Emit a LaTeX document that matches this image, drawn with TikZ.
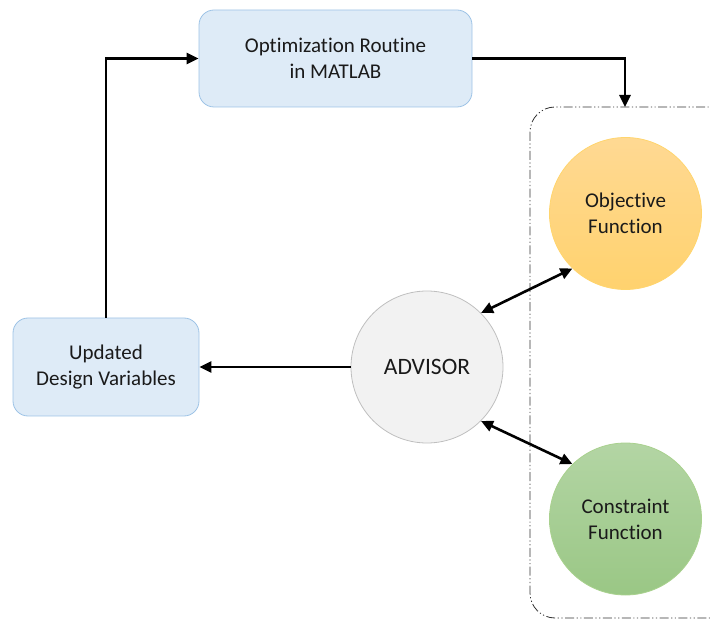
\documentclass[tikz,border=0pt]{standalone}
\usepackage{fontspec}
\setmainfont{Carlito}[Ligatures={NoCommon}]
\usetikzlibrary{arrows.meta}
\definecolor{boxfill}{HTML}{DEEBF7}
\definecolor{boxline}{HTML}{9DC3E6}
\definecolor{advfill}{HTML}{F2F2F2}
\definecolor{advline}{HTML}{BFBFBF}
\definecolor{objtop}{HTML}{FFD993}
\definecolor{objbot}{HTML}{FFD26E}
\definecolor{objline}{HTML}{FFD56E}
\definecolor{contop}{HTML}{B3D5A4}
\definecolor{conbot}{HTML}{9AC785}
\definecolor{conline}{HTML}{A9D18E}
\definecolor{txt}{HTML}{1A1A1A}
\tikzset{
  bluebox/.style={draw=boxline, line width=0.8pt, fill=boxfill, rounded corners=15pt,
    align=center, text=txt, font=\fontsize{21}{26}\selectfont, inner sep=0pt},
  roundnode/.style={circle, minimum size=152pt, inner sep=0pt, align=center, text=txt,
    font=\fontsize{21}{26}\selectfont, line width=0.8pt},
  conn/.style={line width=2.6pt, -{Triangle[length=12pt,width=11pt]}},
  dconn/.style={line width=2.6pt, {Triangle[length=12pt,width=11pt]}-{Triangle[length=12pt,width=11pt]}},
}
\begin{document}
\begin{tikzpicture}[x=1pt,y=-1pt]
\useasboundingbox (0,0) rectangle (710,620);
\clip (0,0) rectangle (710,620);
% dashed group
\draw[line width=0.8pt, draw=black!80, rounded corners=25pt,
  dash pattern=on 9pt off 2.5pt on 1.2pt off 2.5pt on 1.2pt off 2.5pt]
  (530,107) rectangle (740,618);
\node[bluebox, minimum width=273pt, minimum height=97pt] (opt) at (335.5,58.5)
  {Optimization Routine\\in MATLAB};
\node[bluebox, minimum width=186pt, minimum height=98pt] (upd) at (106,367)
  {Updated\\Design Variables};
\node[roundnode, draw=advline, fill=advfill, font=\fontsize{23.5}{28}\selectfont] (adv) at (427,367) {ADVISOR};
\node[roundnode, draw=objline, top color=objtop, bottom color=objbot] (obj) at (625.5,213.5)
  {Objective\\Function};
\node[roundnode, draw=conline, top color=contop, bottom color=conbot] (con) at (625.5,519)
  {Constraint\\Function};
\coordinate (grouptop) at (625,107);
\draw[conn] (upd.north) |- (opt.west);
\draw[conn] (opt.east) -| (grouptop);
\draw[conn] (adv.west) -- (upd.east);
\draw[dconn] (adv.45) -- (obj.226);
\draw[dconn] (adv.-45) -- (con.134);
\end{tikzpicture}
\end{document}
